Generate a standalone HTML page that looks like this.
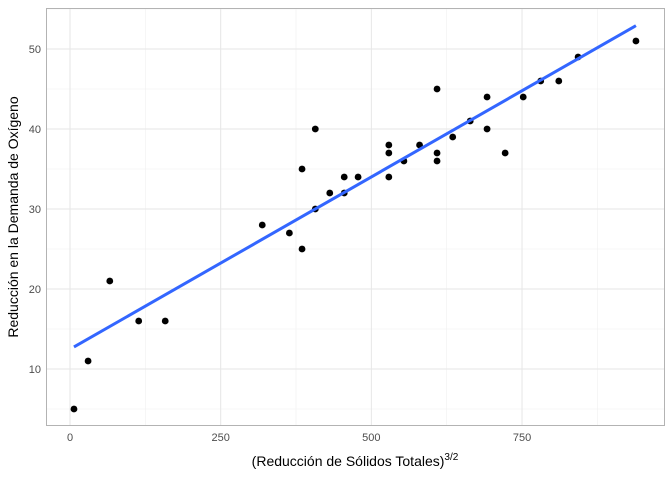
<!DOCTYPE html>
<html><head><meta charset="utf-8"><style>
body{margin:0;background:#fff;font-family:"Liberation Sans",sans-serif}
</style></head><body>
<svg id="chart" width="672" height="480">
<rect x="0" y="0" width="672" height="480" fill="#fff"/>
<g id="grid"></g>
<g id="marks"></g>
<rect x="46.5" y="8.5" width="618" height="417" fill="none" stroke="#b3b3b3" stroke-width="1"/>
<g id="axes" font-size="11" fill="#4d4d4d"></g>
<text x="355" y="466" text-anchor="middle" font-size="14" fill="#000">(Reducción de Sólidos Totales)<tspan dy="-6" font-size="10">3/2</tspan></text>
<text transform="translate(18,217) rotate(-90)" text-anchor="middle" font-size="14" fill="#000">Reducción en la Demanda de Oxígeno</text>
</svg>
<script>
const xs=[6.6,30,66,114,158,319,364,385,385,407,407,431,455,455,478,529,529,529,554,580,609,609,609,635,664,692,692,722,752,781,811,843,939];
const ys=[5,11,21,16,16,28,27,35,25,40,30,32,34,32,34,38,37,34,36,38,45,37,36,39,41,44,40,37,44,46,46,49,51];
const xTicks=[0,250,500,750];
const yTicks=[10,20,30,40,50];
const xMinor=[125,375,625,875];
const yMinor=[5,15,25,35,45,55];
const X=v=>70+v*0.6027, Y=v=>449-v*8;
const ns="http://www.w3.org/2000/svg";
function mk(t,a,p){const e=document.createElementNS(ns,t);for(const k in a)e.setAttribute(k,a[k]);p.appendChild(e);return e;}
const g=document.getElementById('grid'),ax=document.getElementById('axes'),m=document.getElementById('marks');
xMinor.forEach(v=>{const l=mk('line',{x1:X(v),x2:X(v),y1:8,y2:425,stroke:'#f0f0f0','stroke-width':0.6},g);

});
yMinor.forEach(v=>{if(Y(v)<8||Y(v)>425)return;const l=mk('line',{x1:46,x2:664,y1:Y(v),y2:Y(v),stroke:'#f0f0f0','stroke-width':0.6},g);

});
xTicks.forEach(v=>{const l=mk('line',{x1:X(v),x2:X(v),y1:8,y2:425,stroke:'#e6e6e6','stroke-width':1},g);


const t=mk('text',{x:X(v),y:441,'text-anchor':'middle'},ax);t.textContent=v;

});
yTicks.forEach(v=>{const l=mk('line',{x1:46,x2:664,y1:Y(v),y2:Y(v),stroke:'#e6e6e6','stroke-width':1},g);


const t=mk('text',{x:41,y:Y(v)+4,'text-anchor':'end'},ax);t.textContent=v;

});
const n=xs.length,mx=xs.reduce((a,b)=>a+b)/n,my=ys.reduce((a,b)=>a+b)/n;
let sxy=0,sxx=0;for(let i=0;i<n;i++){sxy+=(xs[i]-mx)*(ys[i]-my);sxx+=(xs[i]-mx)**2;}
const b=sxy/sxx,a=my-b*mx,x0=Math.min(...xs),x1=Math.max(...xs);
xs.forEach((v,i)=>{const c=mk('circle',{cx:X(v),cy:Y(ys[i]),r:3.4,fill:'#000'},m);

});
const ln=mk('line',{x1:X(x0),y1:Y(a+b*x0),x2:X(x1),y2:Y(a+b*x1),stroke:'#3366ff','stroke-width':3},m);


</script>
</body></html>
